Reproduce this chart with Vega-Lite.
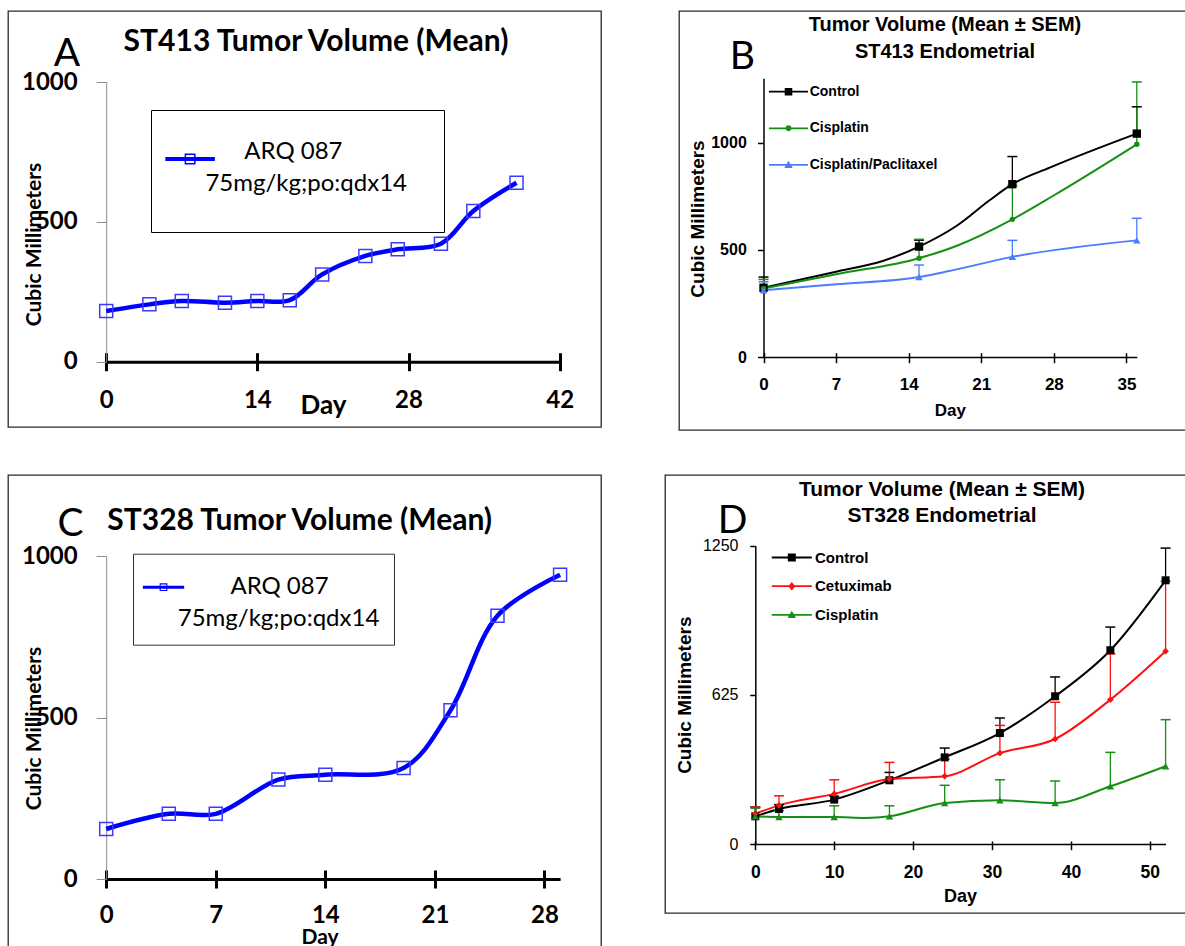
{
  "$schema": "https://vega.github.io/schema/vega-lite/v6.json",
  "background": "white",
  "padding": {"left": 7, "top": 10, "right": 0, "bottom": 0},
  "config": {
    "view": {"stroke": "#2a2a2a", "strokeWidth": 1.3},
    "axis": {"grid": false, "labelFlush": false, "labelOverlap": false, "labelBound": false, "labelColor": "#000", "titleColor": "#000"},
    "legend": {"labelColor": "#000", "titleColor": "#000"}
  },
  "datasets": {
    "st413_arq": [
      {"series": "ARQ 087", "day": 0, "vol": 181},
      {"series": "ARQ 087", "day": 4, "vol": 205},
      {"series": "ARQ 087", "day": 7, "vol": 217},
      {"series": "ARQ 087", "day": 11, "vol": 211},
      {"series": "ARQ 087", "day": 14, "vol": 217},
      {"series": "ARQ 087", "day": 17, "vol": 220},
      {"series": "ARQ 087", "day": 20, "vol": 312},
      {"series": "ARQ 087", "day": 24, "vol": 378},
      {"series": "ARQ 087", "day": 27, "vol": 402},
      {"series": "ARQ 087", "day": 31, "vol": 422},
      {"series": "ARQ 087", "day": 34, "vol": 539},
      {"series": "ARQ 087", "day": 38, "vol": 640}
    ],
    "st328_arq": [
      {"series": "ARQ 087", "day": 0, "vol": 155},
      {"series": "ARQ 087", "day": 4, "vol": 202},
      {"series": "ARQ 087", "day": 7, "vol": 202},
      {"series": "ARQ 087", "day": 11, "vol": 308},
      {"series": "ARQ 087", "day": 14, "vol": 323},
      {"series": "ARQ 087", "day": 19, "vol": 344},
      {"series": "ARQ 087", "day": 22, "vol": 523},
      {"series": "ARQ 087", "day": 25, "vol": 816},
      {"series": "ARQ 087", "day": 29, "vol": 943}
    ],
    "st413_end": [
      {"group": "Control", "day": 0, "vol": 323, "upper": 373},
      {"group": "Control", "day": 7, "vol": 398},
      {"group": "Control", "day": 11.5, "vol": 448},
      {"group": "Control", "day": 15, "vol": 515, "upper": 545},
      {"group": "Control", "day": 18.6, "vol": 611},
      {"group": "Control", "day": 21.8, "vol": 731},
      {"group": "Control", "day": 24, "vol": 806, "upper": 935},
      {"group": "Control", "day": 27.6, "vol": 883},
      {"group": "Control", "day": 36, "vol": 1042, "upper": 1167},
      {"group": "Cisplatin", "day": 0, "vol": 319, "upper": 362},
      {"group": "Cisplatin", "day": 7, "vol": 386},
      {"group": "Cisplatin", "day": 15, "vol": 461, "upper": 549},
      {"group": "Cisplatin", "day": 18.6, "vol": 518},
      {"group": "Cisplatin", "day": 24, "vol": 642, "upper": 800},
      {"group": "Cisplatin", "day": 27.9, "vol": 751},
      {"group": "Cisplatin", "day": 36, "vol": 992, "upper": 1283},
      {"group": "Cisplatin/Paclitaxel", "day": 0, "vol": 311, "upper": 351},
      {"group": "Cisplatin/Paclitaxel", "day": 7, "vol": 339},
      {"group": "Cisplatin/Paclitaxel", "day": 15, "vol": 373, "upper": 429},
      {"group": "Cisplatin/Paclitaxel", "day": 17.9, "vol": 401},
      {"group": "Cisplatin/Paclitaxel", "day": 24, "vol": 467, "upper": 544},
      {"group": "Cisplatin/Paclitaxel", "day": 36, "vol": 544, "upper": 647}
    ],
    "st328_end": [
      {"group": "Control", "day": 0, "vol": 116, "upper": 155},
      {"group": "Control", "day": 3, "vol": 147, "upper": 165},
      {"group": "Control", "day": 10, "vol": 186, "upper": 200},
      {"group": "Control", "day": 17, "vol": 267, "upper": 300},
      {"group": "Control", "day": 24, "vol": 363, "upper": 402},
      {"group": "Control", "day": 31, "vol": 465, "upper": 528},
      {"group": "Control", "day": 38, "vol": 619, "upper": 700},
      {"group": "Control", "day": 45, "vol": 812, "upper": 909},
      {"group": "Control", "day": 52, "vol": 1105, "upper": 1240},
      {"group": "Cetuximab", "day": 0, "vol": 127, "upper": 155},
      {"group": "Cetuximab", "day": 3, "vol": 162, "upper": 202},
      {"group": "Cetuximab", "day": 10, "vol": 210, "upper": 269},
      {"group": "Cetuximab", "day": 17, "vol": 272, "upper": 342},
      {"group": "Cetuximab", "day": 24, "vol": 284, "upper": 355},
      {"group": "Cetuximab", "day": 31, "vol": 381, "upper": 497},
      {"group": "Cetuximab", "day": 38, "vol": 440, "upper": 594},
      {"group": "Cetuximab", "day": 45, "vol": 605, "upper": 797},
      {"group": "Cetuximab", "day": 52, "vol": 808, "upper": 1101},
      {"group": "Cisplatin", "day": 0, "vol": 116, "upper": 150},
      {"group": "Cisplatin", "day": 3, "vol": 113, "upper": 140},
      {"group": "Cisplatin", "day": 10, "vol": 113, "upper": 160},
      {"group": "Cisplatin", "day": 14, "vol": 109},
      {"group": "Cisplatin", "day": 17, "vol": 116, "upper": 160},
      {"group": "Cisplatin", "day": 24, "vol": 172, "upper": 246},
      {"group": "Cisplatin", "day": 31, "vol": 183, "upper": 269},
      {"group": "Cisplatin", "day": 38, "vol": 172, "upper": 264},
      {"group": "Cisplatin", "day": 45, "vol": 242, "upper": 384},
      {"group": "Cisplatin", "day": 52, "vol": 326, "upper": 521}
    ]
  },
  "spacing": 43,
  "resolve": {"scale": {"color": "independent", "x": "independent", "y": "independent"}, "legend": {"color": "independent"}},
  "vconcat": [
    {
      "spacing": 76,
      "resolve": {"scale": {"color": "independent", "x": "independent", "y": "independent"}, "legend": {"color": "independent"}},
      "hconcat": [
        {
          "width": 593, "height": 416,
          "data": {"name": "st413_arq"},
          "resolve": {"axis": {"x": "independent"}},
          "layer": [
            {
              "mark": {"type": "line", "interpolate": "catmull-rom", "strokeWidth": 4.5, "strokeJoin": "round"},
              "encoding": {
                "x": {"field": "day", "type": "quantitative",
                  "scale": {"domain": [0, 42], "range": [98.2, 551.7], "nice": false, "zero": false},
                  "axis": {"orient": "bottom", "offset": -65.3, "values": [0, 14, 28, 42], "ticks": false, "domainColor": "#000", "domainWidth": 3,
                    "labelFont": "Lato", "labelFontSize": 24, "labelFontWeight": "bold", "labelPadding": 27,
                    "title": "Day", "titleFont": "Lato", "titleFontSize": 26, "titleFontWeight": "bold", "titleX": 315, "titleY": 51.3, "titleBaseline": "alphabetic", "titleAlign": "center"}},
                "y": {"field": "vol", "type": "quantitative",
                  "scale": {"domain": [0, 1000], "range": [350.7, 71], "nice": false, "zero": false},
                  "axis": {"orient": "left", "offset": -98.2, "values": [0, 500, 1000], "format": "d", "domainColor": "#8c8c8c", "domainWidth": 1, "tickColor": "#8c8c8c", "tickSize": 10, "tickWidth": 1,
                    "labelFont": "Lato", "labelFontSize": 24, "labelFontWeight": "bold", "labelPadding": 19,
                    "title": "Cubic Millimeters", "titleFont": "Lato", "titleFontSize": 21, "titleFontWeight": "bold", "titleX": -71.7, "titleY": 233, "titleAngle": -90, "titleBaseline": "middle", "titleAlign": "center"}},
                "color": {"field": "series", "type": "nominal",
                  "scale": {"domain": ["ARQ 087"], "range": ["#0000ff"]},
                  "legend": {"orient": "none", "legendX": 143, "legendY": 99, "padding": 36, "strokeColor": "#000",
                    "symbolType": "M-1.95,-0.16H1.95V0.16H-1.95Z M-0.43,-0.43H0.43V0.43H-0.43Z M-0.31,-0.31V0.31H0.31V-0.31Z",
                    "symbolSize": 645, "symbolOffset": -9.9, "symbolFillColor": "#0000ff", "symbolStrokeWidth": 0, "symbolOpacity": 1,
                    "labelOffset": 41.2, "labelFont": "Lato", "labelFontSize": 24, "labelFontWeight": "normal", "labelBaseline": "alphabetic", "labelLimit": 400,
                    "title": "\u200b\u00a0\u00a0\u00a075mg/kg;po:qdx14", "titleOrient": "bottom", "titleAnchor": "start", "titleFont": "Lato", "titleFontSize": 24, "titleFontWeight": "normal", "titlePadding": 8, "titleLimit": 400}}
              }
            },
            {
              "mark": {"type": "point", "shape": "square", "size": 169, "filled": false, "stroke": "#3b3bff", "strokeWidth": 1.5, "opacity": 1},
              "encoding": {
                "x": {"field": "day", "type": "quantitative",
                  "axis": {"orient": "bottom", "offset": -74.3, "values": [0, 14, 28, 42], "domain": false, "labels": false, "ticks": true, "tickSize": 18, "tickWidth": 3, "tickColor": "#000", "title": null}},
                "y": {"field": "vol", "type": "quantitative"}
              }
            },
            {
              "data": {"values": [{"t": "ST413 Tumor Volume (Mean)"}]},
              "mark": {"type": "text", "font": "Lato", "fontSize": 30, "fontWeight": "bold", "align": "center", "baseline": "alphabetic", "color": "#000"},
              "encoding": {"x": {"datum": 19.43, "type": "quantitative", "axis": null}, "y": {"datum": 1111, "type": "quantitative"}, "text": {"field": "t"}}
            },
            {
              "data": {"values": [{"t": "A"}]},
              "mark": {"type": "text", "font": "Lato", "fontSize": 39, "fontWeight": "normal", "align": "center", "baseline": "alphabetic", "color": "#000"},
              "encoding": {"x": {"datum": -3.63, "type": "quantitative", "axis": null}, "y": {"datum": 1057, "type": "quantitative"}, "text": {"field": "t"}}
            }
          ]
        },
        {
          "width": 508, "height": 419,
          "data": {"name": "st413_end"},
          "resolve": {"axis": {"x": "independent"}},
          "layer": [
            {
              "mark": {"type": "line", "interpolate": "monotone", "strokeWidth": 2},
              "encoding": {
                "x": {"field": "day", "type": "quantitative",
                  "scale": {"domain": [0, 36], "range": [84.5, 457.8], "nice": false, "zero": false},
                  "axis": {"orient": "bottom", "offset": -73, "values": [0, 7, 14, 21, 28, 35], "ticks": false, "domainColor": "#000", "domainWidth": 1.5,
                    "labelFont": "Liberation Sans", "labelFontSize": 17, "labelFontWeight": "bold", "labelPadding": 19,
                    "title": "Day", "titleFont": "Liberation Sans", "titleFontSize": 17, "titleFontWeight": "bold", "titleX": 270.8, "titleY": 58, "titleBaseline": "alphabetic", "titleAlign": "center"}},
                "y": {"field": "vol", "type": "quantitative",
                  "scale": {"domain": [0, 1300], "range": [346, 67.3], "nice": false, "zero": false},
                  "axis": {"orient": "left", "offset": -84.5, "values": [0, 500, 1000], "format": "d", "domainColor": "#000", "domainWidth": 1.5, "tickColor": "#000", "tickSize": 6, "tickWidth": 1.5,
                    "labelFont": "Liberation Sans", "labelFontSize": 16, "labelFontWeight": "bold", "labelPadding": 11.2,
                    "title": "Cubic Millimeters", "titleFont": "Liberation Sans", "titleFontSize": 19, "titleFontWeight": "bold", "titleX": -66.2, "titleY": 207.5, "titleAngle": -90, "titleBaseline": "middle", "titleAlign": "center"}},
                "color": {"field": "group", "type": "nominal",
                  "scale": {"domain": ["Control", "Cisplatin", "Cisplatin/Paclitaxel"], "range": ["#000000", "#149014", "#4c7dff"]},
                  "legend": {"orient": "none", "legendX": 102.5, "legendY": 73.7, "padding": 0, "symbolSize": 196, "rowPadding": 22.6, "labelOffset": 14.2,
                    "labelFont": "Liberation Sans", "labelFontSize": 14, "labelFontWeight": "bold", "labelBaseline": "middle", "labelLimit": 300, "title": null,
                    "symbolType": {"expr": "datum.value == 'Control' ? 'M-2.79,-0.13H2.79V0.13H-2.79Z M-0.54,-0.54H0.54V0.54H-0.54Z' : datum.value == 'Cisplatin' ? 'M-2.79,-0.13H2.79V0.13H-2.79Z M-0.42,0A0.42,0.42,0,1,1,0.42,0A0.42,0.42,0,1,1,-0.42,0Z' : 'M-2.79,-0.13H2.79V0.13H-2.79Z M0,-0.6L0.6,0.45H-0.6Z'"},
                    "symbolFillColor": {"expr": "datum.value == 'Control' ? '#000000' : datum.value == 'Cisplatin' ? '#149014' : '#4c7dff'"},
                    "symbolStrokeColor": {"expr": "datum.value == 'Control' ? '#000000' : datum.value == 'Cisplatin' ? '#149014' : '#4c7dff'"},
                    "symbolStrokeWidth": 0, "symbolOpacity": 1}}
              }
            },
            {
              "transform": [{"filter": "isValid(datum.upper)"}],
              "mark": {"type": "rule", "strokeWidth": 1.3},
              "encoding": {
                "x": {"field": "day", "type": "quantitative",
                  "axis": {"orient": "bottom", "offset": -77.3, "values": [0, 7, 14, 21, 28, 35], "domain": false, "labels": false, "ticks": true, "tickSize": 10, "tickWidth": 1.5, "tickColor": "#000", "title": null}},
                "y": {"field": "vol", "type": "quantitative"},
                "y2": {"field": "upper"},
                "color": {"field": "group", "type": "nominal"}
              }
            },
            {
              "transform": [{"filter": "isValid(datum.upper)"}],
              "mark": {"type": "tick", "orient": "horizontal", "size": 10, "thickness": 1.5, "opacity": 1},
              "encoding": {
                "x": {"field": "day", "type": "quantitative", "axis": null},
                "y": {"field": "upper", "type": "quantitative"},
                "color": {"field": "group", "type": "nominal"}
              }
            },
            {
              "transform": [{"filter": "isValid(datum.upper) && datum.group == 'Control'"}],
              "mark": {"type": "point", "shape": "square", "size": 70, "filled": true, "opacity": 1},
              "encoding": {
                "x": {"field": "day", "type": "quantitative", "axis": null},
                "y": {"field": "vol", "type": "quantitative"},
                "color": {"field": "group", "type": "nominal"}
              }
            },
            {
              "transform": [{"filter": "isValid(datum.upper) && datum.group == 'Cisplatin'"}],
              "mark": {"type": "point", "shape": "circle", "size": 30, "filled": true, "opacity": 1},
              "encoding": {
                "x": {"field": "day", "type": "quantitative", "axis": null},
                "y": {"field": "vol", "type": "quantitative"},
                "color": {"field": "group", "type": "nominal"}
              }
            },
            {
              "transform": [{"filter": "isValid(datum.upper) && datum.group == 'Cisplatin/Paclitaxel'"}],
              "mark": {"type": "point", "shape": "triangle-up", "size": 55, "filled": true, "opacity": 1},
              "encoding": {
                "x": {"field": "day", "type": "quantitative", "axis": null},
                "y": {"field": "vol", "type": "quantitative"},
                "color": {"field": "group", "type": "nominal"}
              }
            },
            {
              "data": {"values": [{"t": "Tumor Volume (Mean ± SEM)\nST413 Endometrial"}]},
              "mark": {"type": "text", "font": "Liberation Sans", "fontSize": 20, "fontWeight": "bold", "align": "center", "baseline": "alphabetic", "lineBreak": "\n", "lineHeight": 27, "color": "#000"},
              "encoding": {"x": {"datum": 17.5, "type": "quantitative", "axis": null}, "y": {"datum": 1520.5, "type": "quantitative"}, "text": {"field": "t"}}
            },
            {
              "data": {"values": [{"t": "B"}]},
              "mark": {"type": "text", "font": "Lato", "fontSize": 39, "fontWeight": "normal", "align": "center", "baseline": "alphabetic", "color": "#000"},
              "encoding": {"x": {"datum": -2.03, "type": "quantitative", "axis": null}, "y": {"datum": 1343, "type": "quantitative"}, "text": {"field": "t"}}
            }
          ]
        }
      ]
    },
    {
      "spacing": 62,
      "resolve": {"scale": {"color": "independent", "x": "independent", "y": "independent"}, "legend": {"color": "independent"}},
      "hconcat": [
        {
          "width": 593, "height": 474,
          "data": {"name": "st328_arq"},
          "resolve": {"axis": {"x": "independent"}},
          "layer": [
            {
              "mark": {"type": "line", "interpolate": "catmull-rom", "strokeWidth": 4.5, "strokeJoin": "round"},
              "encoding": {
                "x": {"field": "day", "type": "quantitative",
                  "scale": {"domain": [0, 29], "range": [98.2, 552.1], "nice": false, "zero": false},
                  "axis": {"orient": "bottom", "offset": -70, "values": [0, 7, 14, 21, 28], "ticks": false, "domainColor": "#000", "domainWidth": 3,
                    "labelFont": "Lato", "labelFontSize": 24, "labelFontWeight": "bold", "labelPadding": 24,
                    "title": "Day", "titleFont": "Lato", "titleFontSize": 21, "titleFontWeight": "bold", "titleX": 311.5, "titleY": 64, "titleBaseline": "alphabetic", "titleAlign": "center"}},
                "y": {"field": "vol", "type": "quantitative",
                  "scale": {"domain": [0, 1000], "range": [404, 81.3], "nice": false, "zero": false},
                  "axis": {"orient": "left", "offset": -98.2, "values": [0, 500, 1000], "format": "d", "domainColor": "#8c8c8c", "domainWidth": 1, "tickColor": "#8c8c8c", "tickSize": 10, "tickWidth": 1,
                    "labelFont": "Lato", "labelFontSize": 24, "labelFontWeight": "bold", "labelPadding": 19,
                    "title": "Cubic Millimeters", "titleFont": "Lato", "titleFontSize": 21, "titleFontWeight": "bold", "titleX": -71.7, "titleY": 253, "titleAngle": -90, "titleBaseline": "middle", "titleAlign": "center"}},
                "color": {"field": "series", "type": "nominal",
                  "scale": {"domain": ["ARQ 087"], "range": ["#0000ff"]},
                  "legend": {"orient": "none", "legendX": 125, "legendY": 78.7, "padding": 14, "strokeColor": "#333",
                    "symbolType": "M-1.07,-0.08H1.07V0.08H-1.07Z M-0.2,-0.2H0.2V0.2H-0.2Z M-0.145,-0.145V0.145H0.145V-0.145Z",
                    "symbolSize": 1490, "symbolOffset": -3, "symbolFillColor": "#0000ff", "symbolStrokeWidth": 0, "symbolOpacity": 1,
                    "labelOffset": 47.4, "labelFont": "Lato", "labelFontSize": 24, "labelFontWeight": "normal", "labelBaseline": "middle", "labelLimit": 400,
                    "title": "\u200b\u00a0\u00a0\u00a0\u00a0\u00a075mg/kg;po:qdx14", "titleOrient": "bottom", "titleAnchor": "start", "titleFont": "Lato", "titleFontSize": 24, "titleFontWeight": "normal", "titlePadding": 7, "titleLimit": 400}}
              }
            },
            {
              "mark": {"type": "point", "shape": "square", "size": 169, "filled": false, "stroke": "#3b3bff", "strokeWidth": 1.5, "opacity": 1},
              "encoding": {
                "x": {"field": "day", "type": "quantitative",
                  "axis": {"orient": "bottom", "offset": -79, "values": [0, 7, 14, 21, 28], "domain": false, "labels": false, "ticks": true, "tickSize": 18, "tickWidth": 3, "tickColor": "#000", "title": null}},
                "y": {"field": "vol", "type": "quantitative"}
              }
            },
            {
              "data": {"values": [{"t": "ST328 Tumor Volume (Mean)"}]},
              "mark": {"type": "text", "font": "Lato", "fontSize": 30, "fontWeight": "bold", "align": "center", "baseline": "alphabetic", "color": "#000"},
              "encoding": {"x": {"datum": 12.36, "type": "quantitative", "axis": null}, "y": {"datum": 1081.5, "type": "quantitative"}, "text": {"field": "t"}}
            },
            {
              "data": {"values": [{"t": "C"}]},
              "mark": {"type": "text", "font": "Lato", "fontSize": 39, "fontWeight": "normal", "align": "center", "baseline": "alphabetic", "color": "#000"},
              "encoding": {"x": {"datum": -2.28, "type": "quantitative", "axis": null}, "y": {"datum": 1063, "type": "quantitative"}, "text": {"field": "t"}}
            }
          ]
        },
        {
          "width": 522, "height": 438,
          "data": {"name": "st328_end"},
          "resolve": {"axis": {"x": "independent"}},
          "layer": [
            {
              "mark": {"type": "line", "interpolate": "monotone", "strokeWidth": 2},
              "encoding": {
                "x": {"field": "day", "type": "quantitative",
                  "scale": {"domain": [0, 52], "range": [90.3, 500.6], "nice": false, "zero": false},
                  "axis": {"orient": "bottom", "offset": -69, "values": [0, 10, 20, 30, 40, 50], "ticks": false, "domainColor": "#000", "domainWidth": 1.5,
                    "labelFont": "Liberation Sans", "labelFontSize": 17.5, "labelFontWeight": "bold", "labelPadding": 19.3,
                    "title": "Day", "titleFont": "Liberation Sans", "titleFontSize": 18, "titleFontWeight": "bold", "titleX": 295, "titleY": 57, "titleBaseline": "alphabetic", "titleAlign": "center"}},
                "y": {"field": "vol", "type": "quantitative",
                  "scale": {"domain": [0, 1250], "range": [369, 70.7], "nice": false, "zero": false},
                  "axis": {"orient": "left", "offset": -90.3, "values": [0, 625, 1250], "format": "d", "domainColor": "#000", "domainWidth": 1.5, "tickColor": "#000", "tickSize": 5.6, "tickWidth": 1.5,
                    "labelFont": "Liberation Sans", "labelFontSize": 16, "labelFontWeight": "normal", "labelPadding": 11.7,
                    "title": "Cubic Millimeters", "titleFont": "Liberation Sans", "titleFontSize": 19, "titleFontWeight": "bold", "titleX": -70.6, "titleY": 219.7, "titleAngle": -90, "titleBaseline": "middle", "titleAlign": "center"}},
                "color": {"field": "group", "type": "nominal",
                  "scale": {"domain": ["Control", "Cetuximab", "Cisplatin"], "range": ["#000000", "#ff1010", "#149014"]},
                  "legend": {"orient": "none", "legendX": 119.3, "legendY": 75, "padding": 0, "symbolSize": 196, "rowPadding": 12.7, "labelOffset": 15.7,
                    "labelFont": "Liberation Sans", "labelFontSize": 15, "labelFontWeight": "bold", "labelBaseline": "middle", "labelLimit": 300, "title": null,
                    "symbolType": {"expr": "datum.value == 'Control' ? 'M-2.86,-0.13H2.86V0.13H-2.86Z M-0.57,-0.57H0.57V0.57H-0.57Z' : datum.value == 'Cetuximab' ? 'M-2.86,-0.13H2.86V0.13H-2.86Z M0,-0.6L0.5,0L0,0.6L-0.5,0Z' : 'M-2.86,-0.13H2.86V0.13H-2.86Z M0,-0.6L0.6,0.45H-0.6Z'"},
                    "symbolFillColor": {"expr": "datum.value == 'Control' ? '#000000' : datum.value == 'Cetuximab' ? '#ff1010' : '#149014'"},
                    "symbolStrokeColor": {"expr": "datum.value == 'Control' ? '#000000' : datum.value == 'Cetuximab' ? '#ff1010' : '#149014'"},
                    "symbolStrokeWidth": 0, "symbolOpacity": 1}}
              }
            },
            {
              "transform": [{"filter": "isValid(datum.upper)"}],
              "mark": {"type": "rule", "strokeWidth": 1.3},
              "encoding": {
                "x": {"field": "day", "type": "quantitative",
                  "axis": {"orient": "bottom", "offset": -72, "values": [0, 10, 20, 30, 40, 50], "domain": false, "labels": false, "ticks": true, "tickSize": 8.7, "tickWidth": 1.5, "tickColor": "#000", "title": null}},
                "y": {"field": "vol", "type": "quantitative"},
                "y2": {"field": "upper"},
                "color": {"field": "group", "type": "nominal"}
              }
            },
            {
              "transform": [{"filter": "isValid(datum.upper)"}],
              "mark": {"type": "tick", "orient": "horizontal", "size": 10, "thickness": 1.5, "opacity": 1},
              "encoding": {
                "x": {"field": "day", "type": "quantitative", "axis": null},
                "y": {"field": "upper", "type": "quantitative"},
                "color": {"field": "group", "type": "nominal"}
              }
            },
            {
              "transform": [{"filter": "isValid(datum.upper) && datum.group == 'Control'"}],
              "mark": {"type": "point", "shape": "square", "size": 64, "filled": true, "opacity": 1},
              "encoding": {
                "x": {"field": "day", "type": "quantitative", "axis": null},
                "y": {"field": "vol", "type": "quantitative"},
                "color": {"field": "group", "type": "nominal"}
              }
            },
            {
              "transform": [{"filter": "isValid(datum.upper) && datum.group == 'Cetuximab'"}],
              "mark": {"type": "point", "shape": "diamond", "size": 45, "filled": true, "opacity": 1},
              "encoding": {
                "x": {"field": "day", "type": "quantitative", "axis": null},
                "y": {"field": "vol", "type": "quantitative"},
                "color": {"field": "group", "type": "nominal"}
              }
            },
            {
              "transform": [{"filter": "isValid(datum.upper) && datum.group == 'Cisplatin'"}],
              "mark": {"type": "point", "shape": "triangle-up", "size": 55, "filled": true, "opacity": 1},
              "encoding": {
                "x": {"field": "day", "type": "quantitative", "axis": null},
                "y": {"field": "vol", "type": "quantitative"},
                "color": {"field": "group", "type": "nominal"}
              }
            },
            {
              "data": {"values": [{"t": "Tumor Volume (Mean ± SEM)\nST328 Endometrial"}]},
              "mark": {"type": "text", "font": "Liberation Sans", "fontSize": 21, "fontWeight": "bold", "align": "center", "baseline": "alphabetic", "lineBreak": "\n", "lineHeight": 26, "color": "#000"},
              "encoding": {"x": {"datum": 23.66, "type": "quantitative", "axis": null}, "y": {"datum": 1458.5, "type": "quantitative"}, "text": {"field": "t"}}
            },
            {
              "data": {"values": [{"t": "D"}]},
              "mark": {"type": "text", "font": "Lato", "fontSize": 39, "fontWeight": "normal", "align": "center", "baseline": "alphabetic", "color": "#000"},
              "encoding": {"x": {"datum": -2.89, "type": "quantitative", "axis": null}, "y": {"datum": 1303, "type": "quantitative"}, "text": {"field": "t"}}
            }
          ]
        }
      ]
    }
  ]
}
